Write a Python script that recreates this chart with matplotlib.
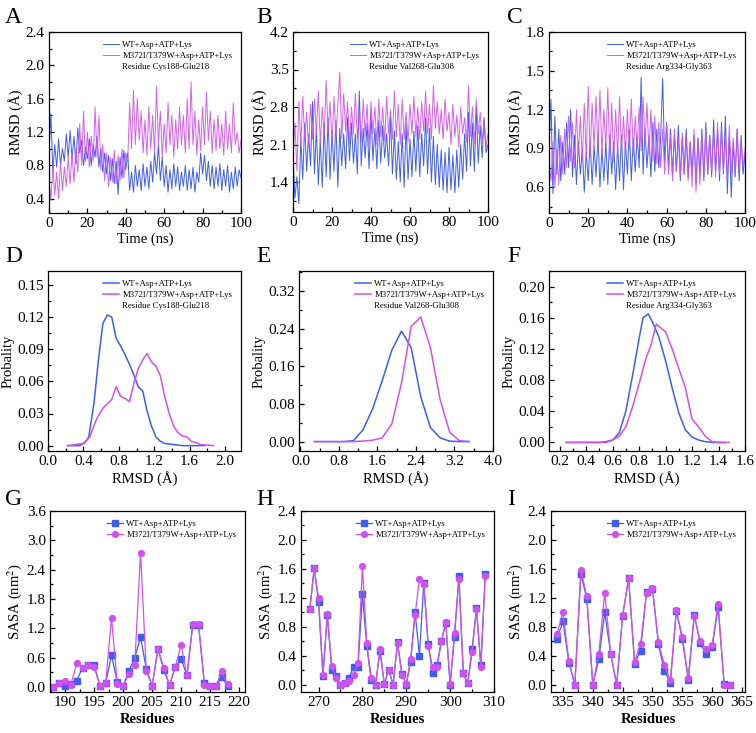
import numpy as np
import matplotlib.pyplot as plt
from matplotlib.lines import Line2D
from matplotlib.ticker import MultipleLocator

plt.rcParams['font.family'] = ['Liberation Serif', 'DejaVu Serif']
plt.rcParams['mathtext.fontset'] = 'stix'

blue = '#3f5cf5'
pink = '#d050f0'
lab_wt = 'WT+Asp+ATP+Lys'
lab_mut = 'M372I/T379W+Asp+ATP+Lys'

# ---- RMSD time series (1 ns steps) ----
time_ns = np.arange(0, 101)

a_wt = [0.95, 1.42, 0.72, 1.05, 0.78, 1.12, 0.80, 1.00, 0.85, 1.18,
        0.90, 1.22, 0.88, 1.15, 0.82, 1.25, 0.95, 1.10, 0.80, 1.02,
        0.88, 1.12, 0.80, 1.05, 0.90, 1.15, 0.78, 1.00, 0.72, 0.95,
        0.70, 0.92, 0.62, 0.88, 0.58, 0.85, 0.45, 0.90, 0.65, 0.98,
        0.75, 0.95, 0.50, 0.72, 0.48, 0.80, 0.55, 0.75, 0.50, 0.82,
        0.55, 0.78, 0.52, 0.85, 0.60, 0.95, 0.70, 1.05, 0.62, 0.90,
        0.55, 0.80, 0.48, 0.75, 0.52, 0.82, 0.55, 0.78, 0.50, 0.72,
        0.55, 0.80, 0.50, 0.75, 0.52, 0.78, 0.48, 0.72, 0.60, 0.95,
        0.70, 0.92, 0.62, 0.85, 0.55, 0.80, 0.52, 0.78, 0.55, 0.82,
        0.50, 0.75, 0.55, 0.80, 0.48, 0.72, 0.52, 0.78, 0.55, 0.75,
        0.65]
a_mut = [0.62, 0.38, 0.80, 0.45, 0.72, 0.40, 0.85, 0.50, 0.78, 0.55,
         0.90, 0.58, 0.95, 0.60, 1.00, 0.72, 1.30, 0.80, 1.45, 0.85,
         1.20, 0.78, 1.15, 0.85, 1.50, 0.90, 1.40, 0.75, 1.05, 0.62,
         0.95, 0.55, 0.90, 0.60, 0.98, 0.58, 0.92, 0.62, 1.00, 0.65,
         0.95, 0.85, 1.55, 1.00, 1.70, 1.05, 1.60, 1.10, 1.45, 0.95,
         1.35, 0.92, 1.50, 1.00, 1.40, 0.95, 1.75, 1.05, 1.45, 0.90,
         1.30, 0.95, 1.55, 1.05, 1.40, 0.90, 1.35, 1.00, 1.50, 1.05,
         1.40, 0.95, 1.60, 1.00, 1.80, 1.05, 1.45, 0.92, 1.35, 0.98,
         1.50, 1.05, 1.68, 1.10, 1.45, 0.95, 1.35, 0.98, 1.40, 1.00,
         1.30, 0.92, 1.45, 1.00, 1.30, 0.95, 1.55, 1.05, 1.20, 0.95,
         1.10]

b_wt = [1.90, 1.10, 1.50, 1.00, 2.20, 1.45, 2.50, 1.60, 2.30, 1.70,
        2.90, 1.55, 2.40, 1.35, 2.20, 1.30, 2.50, 1.50, 2.60, 1.45,
        2.35, 1.60, 2.55, 1.30, 2.40, 1.70, 2.30, 1.65, 2.60, 1.80,
        2.50, 1.75, 2.30, 1.55, 3.10, 1.70, 2.40, 1.85, 2.50, 1.65,
        2.70, 1.80, 2.40, 1.65, 2.55, 1.75, 2.45, 1.85, 2.30, 1.70,
        2.60, 1.55, 2.35, 1.45, 2.15, 1.40, 2.30, 1.30, 2.50, 1.45,
        2.20, 1.50, 2.35, 1.60, 2.45, 1.50, 2.30, 1.70, 2.60, 1.55,
        2.40, 1.40, 2.25, 1.35, 2.10, 1.30, 2.00, 1.25, 1.95, 1.20,
        2.05, 1.25, 1.90, 1.20, 2.00, 1.30, 2.10, 1.45, 2.30, 1.60,
        2.70, 1.70, 2.50, 1.60, 2.80, 1.75, 2.45, 1.85, 2.60, 1.95,
        2.10]
b_mut = [1.90, 2.50, 1.60, 2.90, 2.10, 3.00, 2.20, 2.70, 2.05, 2.85,
         2.20, 2.95, 2.30, 3.10, 2.10, 2.80, 2.25, 3.30, 2.30, 2.90,
         2.10, 3.00, 2.25, 2.85, 3.45, 2.20, 3.05, 2.35, 2.90, 2.10,
         2.80, 2.30, 3.05, 2.20, 2.75, 2.15, 2.95, 2.25, 2.85, 2.05,
         2.90, 2.30, 2.80, 2.10, 2.95, 2.25, 2.80, 2.15, 3.00, 2.30,
         2.75, 2.20, 3.10, 2.25, 2.85, 2.10, 2.95, 2.20, 2.70, 2.15,
         2.85, 2.30, 3.00, 2.25, 2.80, 2.20, 2.90, 2.35, 3.10, 2.30,
         2.85, 2.20, 3.20, 2.40, 2.90, 2.30, 2.75, 2.20, 2.95, 2.35,
         2.70, 2.10, 2.85, 2.25, 2.65, 2.05, 2.80, 2.30, 2.60, 2.15,
         3.20, 2.25, 2.80, 2.10, 2.95, 2.30, 2.70, 2.15, 2.55, 2.05,
         2.30]

c_wt = [0.90, 1.28, 0.55, 1.15, 0.70, 1.05, 0.65, 0.95, 0.70, 1.10,
        0.75, 1.20, 0.68, 1.00, 0.62, 0.95, 0.70, 0.90, 0.56, 0.88,
        0.65, 0.95, 0.62, 0.92, 0.68, 1.00, 0.60, 0.90, 0.65, 0.95,
        0.62, 1.00, 0.70, 0.95, 0.58, 0.92, 0.65, 1.00, 0.58, 0.95,
        0.70, 1.05, 0.65, 0.98, 0.72, 1.00, 0.75, 1.45, 0.70, 1.05,
        0.75, 1.00, 0.68, 1.10, 0.72, 1.05, 0.75, 1.00, 1.44, 0.80,
        1.10, 0.75, 1.05, 0.70, 1.00, 0.72, 1.08, 0.65, 0.98, 0.70,
        1.05, 0.68, 0.95, 0.72, 1.00, 0.62, 0.98, 0.70, 1.05, 0.65,
        1.10, 0.70, 1.00, 0.68, 1.12, 0.72, 1.05, 0.65, 1.10, 0.70,
        1.15, 0.55, 1.00, 0.52, 0.95, 0.68, 1.05, 0.65, 1.00, 0.70,
        0.85]
c_mut = [0.80, 0.65, 0.95, 0.60, 0.90, 0.62, 1.00, 0.70, 1.05, 0.75,
         1.15, 0.80, 1.10, 0.75, 1.20, 0.85, 1.15, 0.80, 1.25, 0.82,
         1.38, 0.85, 1.25, 0.90, 1.30, 0.88, 1.35, 0.85, 1.20, 0.90,
         1.37, 0.82, 1.25, 0.80, 1.20, 0.85, 1.30, 0.88, 1.15, 0.85,
         1.20, 0.90, 1.28, 0.85, 1.15, 0.90, 1.22, 0.88, 1.30, 0.92,
         1.25, 0.85, 1.20, 0.80, 1.15, 0.78, 1.10, 0.75, 1.05, 0.70,
         1.10, 0.70, 1.00, 0.65, 1.05, 0.72, 0.98, 0.68, 1.02, 0.70,
         1.00, 0.65, 0.95, 0.60, 1.05, 0.56, 0.98, 0.62, 1.00, 0.68,
         1.05, 0.70, 1.00, 0.72, 1.02, 0.68, 1.10, 0.70, 1.05, 0.72,
         1.00, 0.65, 1.08, 0.70, 0.98, 0.68, 1.05, 0.72, 0.95, 0.75,
         0.90]

# ---- RMSD probability distributions ----
d_wt_x = [0.22, 0.36, 0.42, 0.46, 0.52, 0.57, 0.62, 0.67, 0.72, 0.77, 0.82, 0.87,
          0.92, 0.97, 1.02, 1.07, 1.12, 1.17, 1.22, 1.27, 1.32, 1.42, 1.52, 1.62, 1.77]
d_wt_y = [0.0, 0.0, 0.003, 0.008, 0.04, 0.08, 0.114, 0.122, 0.12, 0.10, 0.093, 0.085,
          0.076, 0.066, 0.055, 0.051, 0.032, 0.018, 0.008, 0.004, 0.002, 0.001, 0.0, 0.0, 0.0]
d_mut_x = [0.22, 0.40, 0.47, 0.55, 0.62, 0.72, 0.77, 0.82, 0.87, 0.92, 0.97, 1.02, 1.07,
           1.12, 1.17, 1.22, 1.27, 1.32, 1.37, 1.42, 1.47, 1.52, 1.57, 1.62, 1.67, 1.72, 1.87]
d_mut_y = [0.0, 0.002, 0.008, 0.025, 0.035, 0.043, 0.055, 0.046, 0.044, 0.041, 0.058, 0.072,
           0.080, 0.086, 0.078, 0.074, 0.065, 0.045, 0.030, 0.018, 0.012, 0.009, 0.008,
           0.004, 0.003, 0.001, 0.0]

e_x = [0.29, 0.9, 1.1, 1.3, 1.5, 1.7, 1.9, 2.1, 2.3, 2.5, 2.7, 2.9, 3.1, 3.3, 3.5]
e_wt_y = [0.0, 0.0, 0.002, 0.025, 0.07, 0.13, 0.195, 0.235, 0.20, 0.095, 0.03, 0.008, 0.001, 0.0, 0.0]
e_mut_y = [0.0, 0.0, 0.0, 0.001, 0.003, 0.008, 0.038, 0.125, 0.245, 0.265, 0.20, 0.09, 0.02, 0.002, 0.0]

f_wt_x = [0.25, 0.50, 0.55, 0.60, 0.65, 0.70, 0.75, 0.80, 0.83, 0.87, 0.90, 0.95, 1.00,
          1.05, 1.10, 1.15, 1.20, 1.25, 1.30, 1.35, 1.45]
f_wt_y = [0.0, 0.0, 0.001, 0.003, 0.012, 0.04, 0.085, 0.133, 0.160, 0.165, 0.155, 0.135,
          0.105, 0.07, 0.038, 0.016, 0.007, 0.003, 0.001, 0.0, 0.0]
f_mut_x = [0.25, 0.55, 0.60, 0.65, 0.70, 0.75, 0.80, 0.85, 0.89, 0.93, 0.97, 1.00, 1.05,
           1.10, 1.15, 1.20, 1.25, 1.30, 1.35, 1.40, 1.48]
f_mut_y = [0.0, 0.0, 0.003, 0.008, 0.02, 0.045, 0.075, 0.107, 0.125, 0.152, 0.146, 0.142,
           0.12, 0.095, 0.07, 0.03, 0.02, 0.008, 0.001, 0.0, 0.0]

# ---- SASA per residue ----
g_res = np.arange(188, 219)
g_wt = [0.0, 0.08, 0.03, 0.06, 0.13, 0.40, 0.45, 0.45, 0.03, 0.09, 0.65, 0.10, 0.02, 0.33,
        0.60, 1.02, 0.37, 0.03, 0.78, 0.35, 0.04, 0.42, 0.57, 0.24, 1.27, 1.27, 0.08, 0.03,
        0.03, 0.20, 0.03]
g_mut = [0.0, 0.09, 0.13, 0.05, 0.49, 0.40, 0.45, 0.42, 0.03, 0.09, 1.41, 0.07, 0.02, 0.27,
         0.45, 2.75, 0.32, 0.03, 0.78, 0.40, 0.04, 0.42, 0.86, 0.24, 1.29, 1.29, 0.05, 0.03,
         0.02, 0.32, 0.06]

h_res = np.arange(268, 309)
h_wt = [1.04, 1.61, 1.14, 0.12, 0.96, 0.21, 0.12, 0.0, 0.03, 0.10, 0.25, 0.25, 1.25, 0.53,
        0.06, 0.0, 0.47, 0.01, 0.21, 0.0, 0.59, 0.15, 0.0, 0.32, 1.01, 0.40, 1.41, 0.56,
        0.16, 0.27, 0.60, 0.85, 0.0, 0.66, 1.50, 0.16, 0.02, 0.49, 1.06, 0.27, 1.53]
h_mut = [1.04, 1.61, 1.20, 0.14, 0.98, 0.26, 0.09, 0.0, 0.03, 0.05, 0.14, 0.30, 1.64, 0.57,
         0.10, 0.0, 0.49, 0.01, 0.21, 0.0, 0.57, 0.14, 0.01, 0.36, 0.96, 1.46, 1.39, 0.54,
         0.24, 0.24, 0.60, 0.87, 0.01, 0.72, 1.46, 0.16, 0.02, 0.45, 1.05, 0.24, 1.50]

i_res = np.arange(334, 364)
i_wt = [0.63, 0.88, 0.30, 0.0, 1.53, 1.19, 0.0, 0.35, 1.00, 0.43, 0.0, 0.95, 1.47, 0.29,
        0.47, 1.28, 1.32, 0.56, 0.19, 0.03, 1.02, 0.63, 0.07, 0.97, 0.57, 0.42, 0.52, 1.07,
        0.01, 0.0]
i_mut = [0.70, 1.00, 0.33, 0.0, 1.59, 1.22, 0.0, 0.42, 1.27, 0.43, 0.0, 0.96, 1.47, 0.32,
         0.56, 1.27, 1.34, 0.59, 0.27, 0.06, 1.03, 0.66, 0.09, 0.95, 0.60, 0.49, 0.55, 1.12,
         0.0, 0.0]

W, H = 756, 733
fig = plt.figure(figsize=(W / 100, H / 100), dpi=100)


def make_ax(l, r, t, b):
    return fig.add_axes([l / W, 1 - b / H, (r - l) / W, (b - t) / H])


def style(ax, xmaj, xmin, ymaj, ymin):
    ax.xaxis.set_major_locator(MultipleLocator(xmaj))
    ax.xaxis.set_minor_locator(MultipleLocator(xmin))
    ax.yaxis.set_major_locator(MultipleLocator(ymaj))
    ax.yaxis.set_minor_locator(MultipleLocator(ymin))
    ax.tick_params(which='both', direction='in', top=False, right=False,
                   labelsize=11, width=0.9, pad=3)
    ax.tick_params(which='major', length=3.5)
    ax.tick_params(which='minor', length=2)
    for s in ax.spines.values():
        s.set_linewidth(0.9)


def leg(ax, residue=None):
    h, l = ax.get_legend_handles_labels()
    if residue:
        h.append(Line2D([], [], color='none'))
        l.append(residue)
    ax.legend(h, l, loc='upper right', frameon=False, fontsize=6.3,
              handlelength=1.8, handletextpad=0.4, labelspacing=0.35,
              borderaxespad=0.6)


pos_top = [(49, 241, 32, 213), (293, 488, 32, 212), (549, 745, 32, 213)]
pos_mid = [(48, 241, 271, 451), (299, 493, 271, 451), (549, 745, 271, 451)]
pos_bot = [(50, 245, 511, 692), (301, 494, 511, 692), (551, 745, 511, 692)]

residues = ['Residue Cys188-Glu218', 'Residue Val268-Glu308', 'Residue Arg334-Gly363']

# row 1: time series
ts = [(a_wt, a_mut, (0.23, 2.4), 0.4, 0.2),
      (b_wt, b_mut, (0.84, 4.2), 0.7, 0.35),
      (c_wt, c_mut, (0.4, 1.8), 0.3, 0.15)]
for p, (wt, mut, yl, ym, yn), res in zip(pos_top, ts, residues):
    ax = make_ax(*p)
    ax.plot(time_ns, wt, color=blue, lw=0.7, label=lab_wt)
    ax.plot(time_ns, mut, color=pink, lw=0.7, alpha=0.9, label=lab_mut)
    ax.set_xlim(0, 100)
    ax.set_ylim(*yl)
    style(ax, 20, 10, ym, yn)
    ax.set_xlabel('Time (ns)', fontsize=10.5, labelpad=2)
    ax.set_ylabel('RMSD (Å)', fontsize=10.5, labelpad=2)
    leg(ax, res)

# row 2: distributions
dist = [(d_wt_x, d_wt_y, d_mut_x, d_mut_y, (0, 2.18), (-0.005, 0.163), 0.4, 0.2, 0.03, 0.015),
        (e_x, e_wt_y, e_x, e_mut_y, (-0.03, 4.0), (-0.02, 0.363), 0.8, 0.4, 0.08, 0.04),
        (f_wt_x, f_wt_y, f_mut_x, f_mut_y, (0.12, 1.6), (-0.011, 0.22), 0.2, 0.1, 0.04, 0.02)]
for p, (wx, wy, mx, my, xl, yl, xm, xn, ym, yn), res in zip(pos_mid, dist, residues):
    ax = make_ax(*p)
    ax.plot(wx, wy, color=blue, lw=1.1, label=lab_wt)
    ax.plot(mx, my, color=pink, lw=1.1, label=lab_mut)
    ax.set_xlim(*xl)
    ax.set_ylim(*yl)
    style(ax, xm, xn, ym, yn)
    ax.xaxis.set_major_formatter(plt.FormatStrFormatter('%.1f'))
    ax.yaxis.set_major_formatter(plt.FormatStrFormatter('%.2f'))
    ax.set_xlabel('RMSD (Å)', fontsize=10.5, labelpad=2)
    ax.set_ylabel('Probality', fontsize=10.5, labelpad=2)
    leg(ax, res)

# row 3: SASA
sasa = [(g_res, g_wt, g_mut, (187.4, 221), (-0.1, 3.6), 5, 2.5, 0.6, 0.3),
        (h_res, h_wt, h_mut, (266, 310), (-0.1, 2.4), 10, 5, 0.4, 0.2),
        (i_res, i_wt, i_mut, (333, 365.5), (-0.1, 2.4), 5, 2.5, 0.4, 0.2)]
for p, (rx, wt, mut, xl, yl, xm, xn, ym, yn) in zip(pos_bot, sasa):
    ax = make_ax(*p)
    ax.plot(rx, wt, color=blue, lw=0.9, marker='s', ms=4.2, label=lab_wt)
    ax.plot(rx, mut, color=pink, lw=0.9, marker='o', ms=4.2, label=lab_mut)
    ax.set_xlim(*xl)
    ax.set_ylim(*yl)
    style(ax, xm, xn, ym, yn)
    ax.yaxis.set_major_formatter(plt.FormatStrFormatter('%.1f'))
    ax.set_xlabel('Residues', fontsize=10.5, fontweight='bold', labelpad=3)
    ax.set_ylabel('SASA (nm$^2$)', fontsize=10.5, labelpad=2)
    leg(ax)

letters = [('A', 5, 23), ('B', 256, 23), ('C', 507, 23),
           ('D', 5, 262), ('E', 256, 262), ('F', 507, 262),
           ('G', 5, 505), ('H', 256, 505), ('I', 507, 505)]
for t, x, y in letters:
    fig.text(x / W, 1 - y / H, t, fontsize=17, va='baseline', ha='left')

fig.savefig('out.png', dpi=100)
